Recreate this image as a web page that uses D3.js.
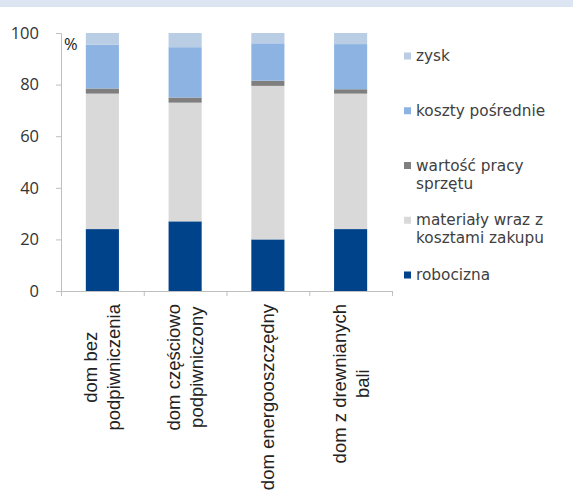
<!DOCTYPE html>
<html>
<head>
<meta charset="utf-8">
<script src="https://cdn.jsdelivr.net/npm/d3@7/dist/d3.min.js"></script>
<style>
  html, body { margin: 0; padding: 0; background: #fff; }
  svg { display: block; }
</style>
</head>
<body>
<svg id="chart" width="573" height="498"></svg>
<script>
// Cost structure by house type, % of total
const categories = [
  ["dom bez", "podpiwniczenia"],
  ["dom częściowo", "podpiwniczony"],
  ["dom energooszczędny"],
  ["dom z drewnianych", "bali"]
];
const robocizna = [24, 27, 20, 24];
const materialy = [52.5, 46, 59.5, 52.5];
const sprzet = [2, 2, 2, 1.7];
const koszty = [17, 19.5, 14.5, 17.5];
const zysk = [4.5, 5.5, 4, 4.3];

const seriesKeys = ["robocizna", "materialy", "sprzet", "koszty", "zysk"];
const seriesLabels = {
  robocizna: ["robocizna"],
  materialy: ["materiały wraz z", "kosztami zakupu"],
  sprzet: ["wartość pracy", "sprzętu"],
  koszty: ["koszty pośrednie"],
  zysk: ["zysk"]
};
const seriesColors = {
  robocizna: "#00438a",
  materialy: "#d9d9d9",
  sprzet: "#7f7f7f",
  koszty: "#8db3e2",
  zysk: "#b9cde5"
};
const yTicks = [0, 20, 40, 60, 80, 100];

const table = categories.map((c, i) => ({
  key: c.join(" "),
  robocizna: robocizna[i],
  materialy: materialy[i],
  sprzet: sprzet[i],
  koszty: koszty[i],
  zysk: zysk[i]
}));

const svg = d3.select("#chart");

// header strip
svg.append("rect").attr("x", 0).attr("y", 0).attr("width", 573).attr("height", 7)
  .attr("fill", "#dce6f2");

const plot = { left: 61, right: 392, top: 33, bottom: 291 };

const x = d3.scaleBand()
  .domain(table.map(d => d.key))
  .range([plot.left, plot.right])
  .paddingInner(0.6)
  .paddingOuter(0.3);

const y = d3.scaleLinear().domain([0, 100]).range([plot.bottom, plot.top]);

const stacked = d3.stack().keys(seriesKeys)(table);

// bars
svg.append("g").selectAll("g")
  .data(stacked)
  .join("g")
  .attr("fill", s => seriesColors[s.key])
  .selectAll("rect")
  .data(s => s)
  .join("rect")
  .attr("x", d => x(d.data.key))
  .attr("width", x.bandwidth())
  .attr("y", d => y(d[1]))
  .attr("height", d => y(d[0]) - y(d[1]));

// y axis
const yAxis = svg.append("g")
  .attr("transform", `translate(${plot.left},0)`)
  .call(d3.axisLeft(y).tickValues(yTicks).tickSize(5).tickPadding(17));
yAxis.select(".domain").attr("stroke", "#bfbfbf");
yAxis.selectAll(".tick line").attr("stroke", "#bfbfbf");
yAxis.selectAll(".tick text")
  .attr("font-family", "'Open Sans', sans-serif")
  .attr("font-size", 16.5)
  .attr("fill", "#333");

// x axis: line with ticks at category boundaries
const xg = svg.append("g");
xg.append("line")
  .attr("x1", plot.left).attr("x2", plot.right)
  .attr("y1", plot.bottom + 0.5).attr("y2", plot.bottom + 0.5)
  .attr("stroke", "#bfbfbf");
const step = x.step();
const boundaries = d3.range(table.length + 1).map(i => x.range()[0] + i * step);
xg.selectAll("line.b")
  .data(boundaries)
  .join("line")
  .attr("class", "b")
  .attr("x1", d => d + 0.5).attr("x2", d => d + 0.5)
  .attr("y1", plot.bottom).attr("y2", plot.bottom + 5)
  .attr("stroke", "#bfbfbf");

// rotated category labels, centered lines, top-anchored block
const lineH = 23;
const labelTop = plot.bottom + 13;
table.forEach((d, i) => {
  const lines = categories[i];
  const cx = x(d.key) + x.bandwidth() / 2;
  const g = svg.append("g")
    .attr("transform", `translate(${cx},${labelTop}) rotate(-90)`);
  const texts = lines.map((t, j) => g.append("text")
    .attr("font-family", "'Liberation Sans', Arial, sans-serif")
    .attr("font-size", 18.5)
    .attr("fill", "#222")
    .attr("text-anchor", "middle")
    .text(t));
  const maxLen = d3.max(texts, t => t.node().getComputedTextLength());
  const n = lines.length;
  texts.forEach((t, j) => {
    const offset = (j - (n - 1) / 2) * lineH;
    t.attr("x", -maxLen / 2).attr("y", offset + 6.5);
  });
});

// unit label
svg.append("text")
  .attr("x", plot.left + 3).attr("y", 50)
  .attr("font-family", "'Open Sans', sans-serif")
  .attr("font-size", 16.5)
  .attr("fill", "#222")
  .text("%");

// legend
const legendKeys = seriesKeys.slice().reverse();
const ly = d3.scalePoint().domain(legendKeys).range([56, 275]);
const legend = svg.append("g");
legendKeys.forEach(k => {
  const gy = ly(k);
  legend.append("rect")
    .attr("x", 404).attr("y", gy - 3.5)
    .attr("width", 7).attr("height", 7)
    .attr("fill", seriesColors[k]);
  seriesLabels[k].forEach((t, j) => {
    legend.append("text")
      .attr("x", 416).attr("y", gy + 5 + j * 18)
      .attr("font-family", "'DejaVu Sans', sans-serif")
      .attr("font-size", 15.3)
      .attr("fill", "#404040")
      .text(t);
  });
});
</script>
</body>
</html>
